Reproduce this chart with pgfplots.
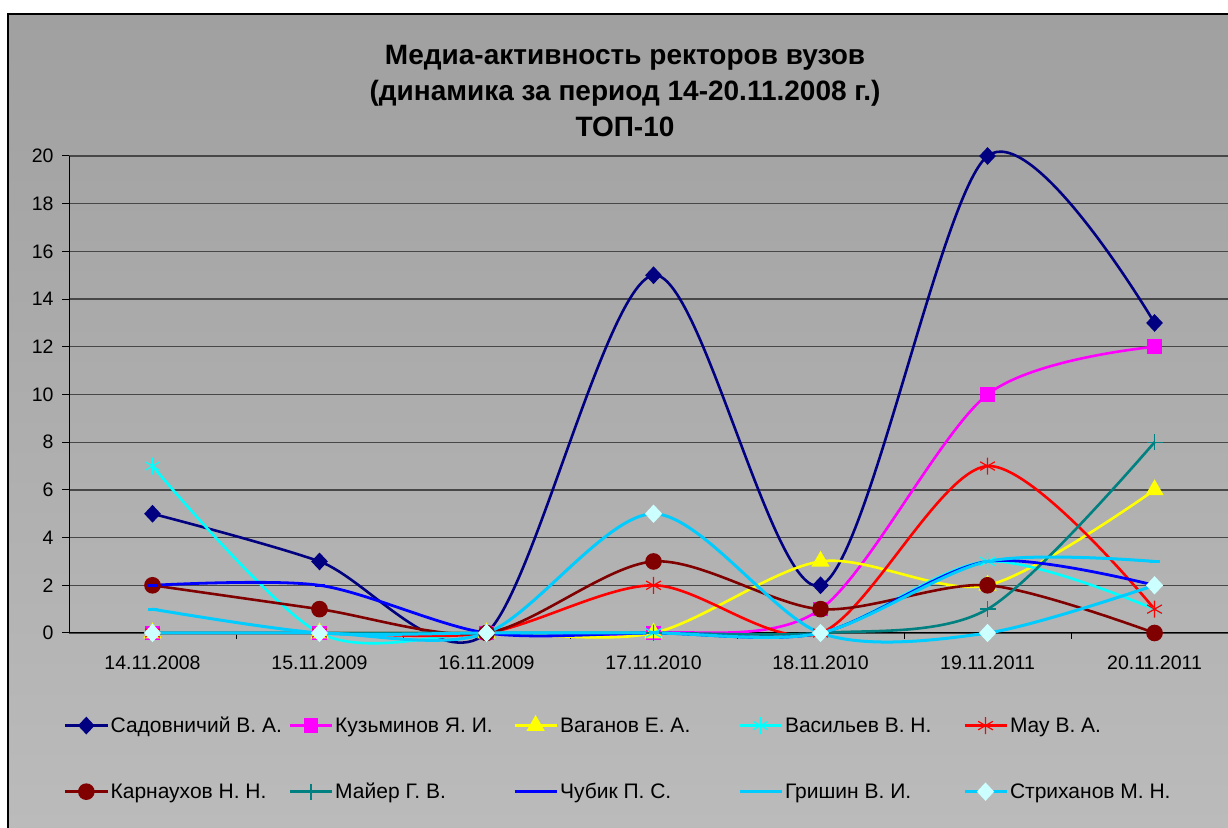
\documentclass[border=0pt]{standalone}
\usepackage{fontspec}
\setmainfont{Liberation Sans}
\usepackage{pgfplots}
\pgfplotsset{compat=1.18}
\definecolor{bgtop}{RGB}{160,160,160}
\definecolor{bgbot}{RGB}{187,187,187}
\definecolor{sadc}{RGB}{0,0,128}
\definecolor{kuzc}{RGB}{255,0,255}
\definecolor{vagc}{RGB}{255,255,0}
\definecolor{vasc}{RGB}{0,255,255}
\definecolor{mauc}{RGB}{255,0,0}
\definecolor{karc}{RGB}{128,0,0}
\definecolor{maic}{RGB}{0,128,128}
\definecolor{chuc}{RGB}{0,0,255}
\definecolor{gric}{RGB}{0,204,255}
\definecolor{strc}{RGB}{204,255,255}
\begin{document}
\begin{tikzpicture}[x=1bp,y=1bp]
\fill[white] (0,0) rectangle (1228,828);
\shade[top color=bgtop, bottom color=bgbot] (8,-2) rectangle (1240,814);
\draw[black, line width=1.5bp] (8,-5) -- (8,814) -- (1240,814);
\node[align=center, font=\bfseries\fontsize{28bp}{36bp}\selectfont] at (625,737) {Медиа-активность ректоров вузов\\(динамика за период 14-20.11.2008 г.)\\ТОП-10};
\begin{axis}[
  at={(69bp,195bp)}, anchor=south west,
  scale only axis, width=1159bp, height=477bp,
  xmin=-0.5, xmax=6.44, ymin=0, ymax=20,
  clip=false,
  axis x line*=bottom, axis y line*=left,
  axis line style={black, line width=1bp},
  ytick={0,2,...,20},
  ymajorgrids,
  major grid style={black!72, line width=1.3bp},
  xtick={0,...,6},
  xticklabels={14.11.2008,15.11.2009,16.11.2009,17.11.2010,18.11.2010,19.11.2011,20.11.2011},
  minor xtick={0.5,1.5,...,5.5},
  tick align=outside,
  major tick length=7bp, minor tick length=6bp,
  major x tick style={draw=none},
  minor x tick style={black, line width=1bp},
  y tick style={black, line width=1bp},
  /pgf/number format/assume math mode=true,
  ticklabel style={font=\fontsize{19.5bp}{23bp}\selectfont},
  yticklabel style={xshift=-5bp},
  xticklabel style={yshift=-12bp},
  legend columns=5,
  legend style={draw=none, fill=none, at={(rel axis cs:-0.0043,-0.172)}, anchor=north west,
    inner sep=0pt, outer sep=0pt, nodes={inner sep=2bp}, row sep=45bp,
    font=\fontsize{21bp}{25bp}\selectfont},
  legend cell align=left,
  legend image code/.code={\draw[mark repeat=2,mark phase=2] plot coordinates {(0bp,0bp) (21bp,0bp) (42bp,0bp)};},
]
\addplot[sadc, line width=2.6bp, smooth, mark=diamond*, mark size=7bp, mark options={solid, fill=sadc, xscale=1.25}] coordinates {(0,5)(1,3)(2,0)(3,15)(4,2)(5,20)(6,13)};
\addlegendentry{\makebox[176bp][l]{Садовничий В. А.}}
\addplot[kuzc, line width=2.6bp, smooth, mark=square*, mark size=6bp, mark options={solid, fill=kuzc}] coordinates {(0,0)(1,0)(2,0)(3,0)(4,1)(5,10)(6,12)};
\addlegendentry{\makebox[176bp][l]{Кузьминов Я. И.}}
\addplot[vagc, line width=2.6bp, smooth, mark=triangle*, mark size=8bp, mark options={solid, fill=vagc}] coordinates {(0,0)(1,0)(2,0)(3,0)(4,3)(5,2)(6,6)};
\addlegendentry{\makebox[176bp][l]{Ваганов Е. А.}}
\addplot[vasc, line width=2.6bp, smooth, mark=asterisk, mark size=8.5bp, mark options={solid, line width=1.2bp}] coordinates {(0,7)(1,0)(2,0)(3,0)(4,0)(5,3)(6,1)};
\addlegendentry{\makebox[176bp][l]{Васильев В. Н.}}
\addplot[mauc, line width=2.6bp, smooth, mark=asterisk, mark size=8.5bp, mark options={solid, line width=1.2bp}] coordinates {(0,0)(1,0)(2,0)(3,2)(4,0)(5,7)(6,1)};
\addlegendentry{\makebox[176bp][l]{Мау В. А.}}
\addplot[karc, line width=2.6bp, smooth, mark=*, mark size=7bp, mark options={solid, fill=karc}] coordinates {(0,2)(1,1)(2,0)(3,3)(4,1)(5,2)(6,0)};
\addlegendentry{\makebox[176bp][l]{Карнаухов Н. Н.}}
\addplot[maic, line width=2.6bp, smooth, mark=+, mark size=8bp, mark options={solid, line width=1.3bp}] coordinates {(0,0)(1,0)(2,0)(3,0)(4,0)(5,1)(6,8)};
\addlegendentry{\makebox[176bp][l]{Майер Г. В.}}
\addplot[chuc, line width=2.8bp, smooth, mark=-, mark size=5bp, mark options={solid, line width=2.8bp}] coordinates {(0,2)(1,2)(2,0)(3,0)(4,0)(5,3)(6,2)};
\addlegendentry{\makebox[176bp][l]{Чубик П. С.}}
\addplot[gric, line width=3bp, smooth, mark=-, mark size=5bp, mark options={solid, line width=3bp}] coordinates {(0,1)(1,0)(2,0)(3,0)(4,0)(5,3)(6,3)};
\addlegendentry{\makebox[176bp][l]{Гришин В. И.}}
\addplot[gric, line width=3bp, smooth, mark=diamond*, mark size=7bp, mark options={solid, fill=strc, draw=strc, xscale=1.25}] coordinates {(0,0)(1,0)(2,0)(3,5)(4,0)(5,0)(6,2)};
\addlegendentry{\makebox[176bp][l]{Стриханов М. Н.}}
\end{axis}
\pgfresetboundingbox
\path[use as bounding box] (0,0) rectangle (1228,828);
\end{tikzpicture}
\end{document}
